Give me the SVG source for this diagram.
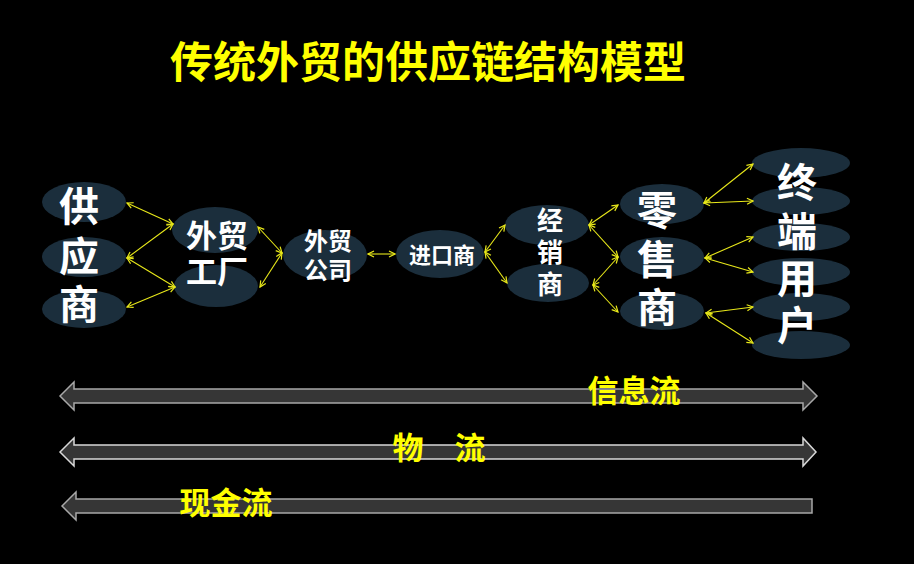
<svg xmlns="http://www.w3.org/2000/svg" width="914" height="564" viewBox="0 0 914 564">
<defs>
<marker id="ah" viewBox="0 0 8 8" markerWidth="8" markerHeight="8" refX="7" refY="4" orient="auto-start-reverse" markerUnits="userSpaceOnUse">
<path d="M1,1 L7,4 L1,7" fill="none" stroke="#e8e81a" stroke-width="1.2"/>
</marker>
<style>
.nd{fill:#1b2e3c}
.t{font-family:"Noto Sans CJK SC","Liberation Sans",sans-serif;font-weight:bold;fill:#ffffff;text-anchor:middle}
.y{font-family:"Noto Sans CJK SC","Liberation Sans",sans-serif;font-weight:bold;fill:#ffff00;text-anchor:middle}
.c line{stroke:#e8e81a;stroke-width:1.1;marker-start:url(#ah);marker-end:url(#ah)}
.bar{fill:#363636;stroke:#a8a8a8;stroke-width:1.5}
</style>
</defs>
<rect width="914" height="564" fill="#000000"/>
<text class="y" x="428" y="78" font-size="43">传统外贸的供应链结构模型</text>

<g id="supplier">
<ellipse class="nd" cx="84" cy="202" rx="42" ry="20"/>
<ellipse class="nd" cx="84" cy="257" rx="42" ry="20"/>
<ellipse class="nd" cx="84" cy="309" rx="42" ry="19"/>
<text class="t" font-size="40" x="79" y="221">供</text>
<text class="t" font-size="40" x="79" y="271">应</text>
<text class="t" font-size="40" x="79" y="319">商</text>
</g>
<g id="factory">
<ellipse class="nd" cx="215" cy="230" rx="43" ry="23"/>
<ellipse class="nd" cx="216" cy="286" rx="42" ry="21"/>
<text class="t" font-size="31" x="217" y="247">外贸</text>
<text class="t" font-size="31" x="217" y="283">工厂</text>
</g>
<g id="company">
<ellipse class="nd" cx="325" cy="255" rx="42" ry="25"/>
<text class="t" font-size="24" x="328" y="250">外贸</text>
<text class="t" font-size="24" x="328" y="279">公司</text>
</g>
<g id="importer">
<ellipse class="nd" cx="440" cy="254" rx="44" ry="24"/>
<text class="t" font-size="22" x="442" y="263">进口商</text>
</g>
<g id="distributor">
<ellipse class="nd" cx="547" cy="225" rx="42" ry="20"/>
<ellipse class="nd" cx="548" cy="283" rx="41" ry="19"/>
<text class="t" font-size="26" x="550" y="230">经</text>
<text class="t" font-size="26" x="550" y="262">销</text>
<text class="t" font-size="26" x="550" y="294">商</text>
</g>
<g id="retailer">
<ellipse class="nd" cx="662" cy="204" rx="42" ry="20"/>
<ellipse class="nd" cx="662" cy="257" rx="42" ry="20"/>
<ellipse class="nd" cx="662" cy="311" rx="42" ry="19"/>
<text class="t" font-size="40" x="657" y="225">零</text>
<text class="t" font-size="40" x="657" y="274">售</text>
<text class="t" font-size="40" x="657" y="322">商</text>
</g>
<g id="enduser">
<ellipse class="nd" cx="801" cy="163" rx="49" ry="15"/>
<ellipse class="nd" cx="801" cy="201" rx="49" ry="14"/>
<ellipse class="nd" cx="801" cy="237" rx="49" ry="14"/>
<ellipse class="nd" cx="801" cy="272" rx="49" ry="14"/>
<ellipse class="nd" cx="801" cy="307" rx="49" ry="14"/>
<ellipse class="nd" cx="801" cy="345" rx="49" ry="14"/>
<text class="t" font-size="40" x="797" y="197">终</text>
<text class="t" font-size="40" x="797" y="246">端</text>
<text class="t" font-size="40" x="797" y="293">用</text>
<text class="t" font-size="40" x="797" y="340">户</text>
</g>

<g id="connectors" class="c">
<line x1="127" y1="203" x2="173" y2="224"/>
<line x1="127" y1="258" x2="173" y2="224"/>
<line x1="127" y1="258" x2="175" y2="287"/>
<line x1="127" y1="307" x2="175" y2="287"/>
<line x1="258" y1="227" x2="282" y2="253"/>
<line x1="260" y1="287" x2="282" y2="253"/>
<line x1="368" y1="254" x2="395" y2="254"/>
<line x1="485" y1="252" x2="505" y2="225"/>
<line x1="485" y1="252" x2="507" y2="283"/>
<line x1="589" y1="225" x2="618" y2="205"/>
<line x1="589" y1="225" x2="618" y2="257"/>
<line x1="593" y1="285" x2="618" y2="257"/>
<line x1="593" y1="285" x2="618" y2="312"/>
<line x1="704" y1="203" x2="753" y2="164"/>
<line x1="704" y1="203" x2="753" y2="201"/>
<line x1="705" y1="258" x2="753" y2="237"/>
<line x1="705" y1="258" x2="753" y2="272"/>
<line x1="706" y1="313" x2="753" y2="307"/>
<line x1="706" y1="313" x2="753" y2="343"/>
</g>

<g id="info-flow">
<polygon class="bar" points="60,396 74,382 74,389 803,389 803,382 817,396 803,410 803,403 74,403 74,410"/>
<text class="y" font-size="31" x="634" y="402">信息流</text>
</g>
<g id="logistics-flow">
<polygon class="bar" points="60,452 74,438 74,445 803,445 803,438 816,452 803,466 803,459 74,459 74,466" style="stroke:#d8d8d8"/>
<text class="y" font-size="31" x="439" y="459">物　流</text>
</g>
<g id="cash-flow">
<polygon class="bar" points="62,506 76,492 76,499 812,499 812,513 76,513 76,520"/>
<text class="y" font-size="31" x="226" y="514">现金流</text>
</g>
</svg>
